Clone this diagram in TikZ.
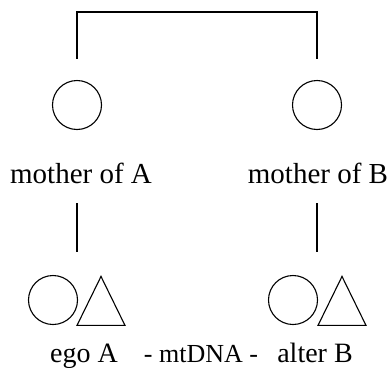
\documentclass[tikz,border=0pt]{standalone}
\usepackage{fontspec}
\setmainfont{Liberation Serif}
\usetikzlibrary{shapes.geometric}
\tikzset{
	female/.style={circle, draw=black, line width=1.1pt, minimum size=49pt, inner sep=0pt},
	male/.style={isosceles triangle, isosceles triangle stretches, shape border rotate=90, draw=black, line width=1.1pt, minimum width=48pt, minimum height=49pt, inner sep=0pt, anchor=apex},
	kinLabel/.style={anchor=base, inner sep=0pt, font=\fontsize{28}{32}\selectfont},
	kinLine/.style={line width=1.1pt}
}
\begin{document}
\begin{tikzpicture}[x=1pt, y=-1pt]
	\useasboundingbox (0,0) rectangle (390,367);

	% mothers
	\node[female](momA) at (77,105){};
	\node[female](momB) at (317,105){};
	\node[kinLabel, font=\fontsize{29}{33}\selectfont](momALabel) at (81,183){mother of A};
	\node[kinLabel, font=\fontsize{29}{33}\selectfont](momBLabel) at (318,183){mother of B};

	% ego and alter
	\node[female](egoFem) at (53,300){};
	\node[male](egoMale) at (101,275){};
	\node[female](alterFem) at (293,300){};
	\node[male](alterMale) at (342,275){};
	\node[kinLabel](egoLabel) at (84,362){ego A};
	\node[kinLabel, font=\fontsize{26}{30}\selectfont](mtLabel) at (201,362){- mtDNA -};
	\node[kinLabel](alterLabel) at (315,362){alter B};

	% sibling bracket
	\coordinate (sibTop) at (197,12);
	\draw[kinLine, shorten <=21pt, shorten >=21pt] (momA.north) |- (sibTop) -| (momB.north);

	% descent lines
	\coordinate (descA) at (77,203);
	\coordinate (descB) at (317,203);
	\draw[kinLine, shorten >=23pt] (descA) -- (descA |- egoMale.apex);
	\draw[kinLine, shorten >=23pt] (descB) -- (descB |- alterMale.apex);
\end{tikzpicture}
\end{document}
